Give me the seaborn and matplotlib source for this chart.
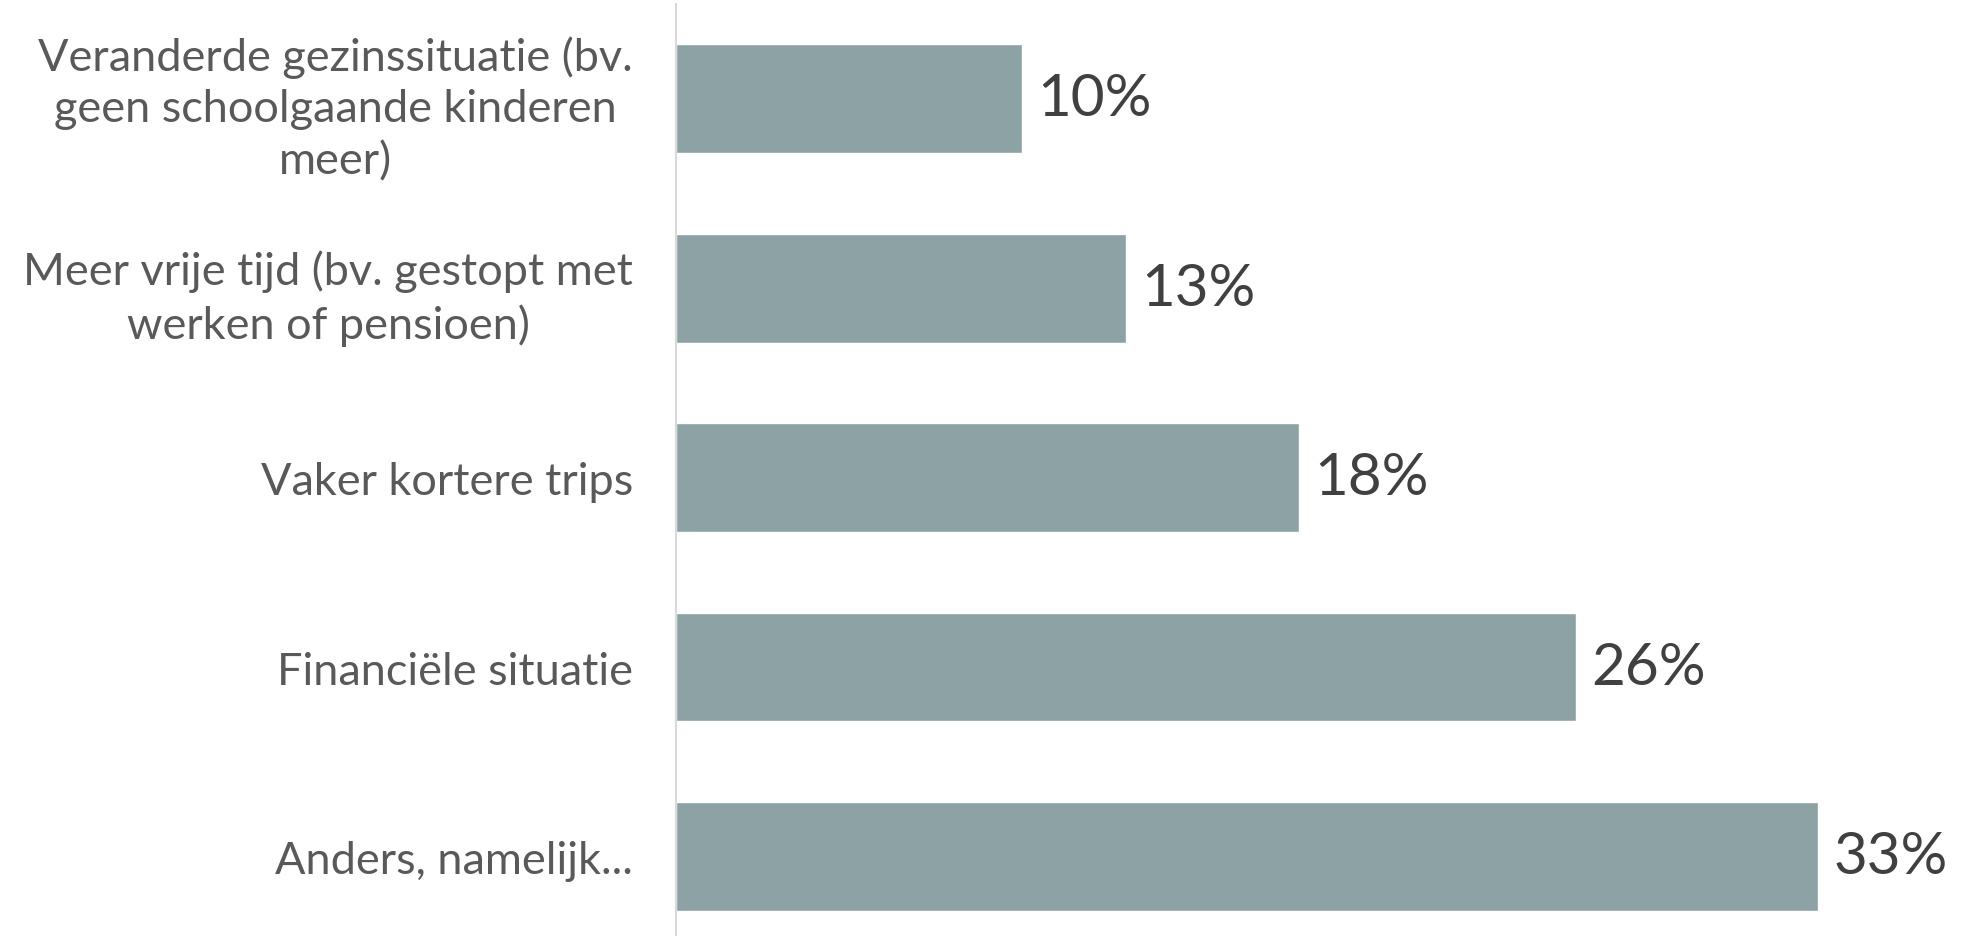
import seaborn as sns
import matplotlib.pyplot as plt
import pandas as pd

categories = [
    "Veranderde gezinssituatie (bv.\ngeen schoolgaande kinderen\nmeer)",
    "Meer vrije tijd (bv. gestopt met\nwerken of pensioen)",
    "Vaker kortere trips",
    "Financiële situatie",
    "Anders, namelijk...",
]
values = [10, 13, 18, 26, 33]
value_labels = ["10%", "13%", "18%", "26%", "33%"]

df = pd.DataFrame({"reden": categories, "pct": values})

sns.set_style("white")
plt.rcParams['font.family'] = ['Lato', 'DejaVu Sans']

fig = plt.figure(figsize=(19.62, 9.37), dpi=100)
ax = fig.add_axes([676 / 1962, 0, 1 - 676 / 1962, 932 / 937])

sns.barplot(data=df, x="pct", y="reden", orient="h", color="#8DA2A4",
            saturation=1, width=0.575, ax=ax)

ax.set_xlim(0, 37.17)
ax.set_ylim(4.42, -0.5)

for i, (v, lab) in enumerate(zip(values, value_labels)):
    ax.text(v + 0.45, i, lab, va="center", ha="left", fontsize=42, color="#404040")

ax.set_xlabel("")
ax.set_ylabel("")
ax.set_xticks([])
ax.tick_params(axis="y", length=0, pad=31)
for lab in ax.get_yticklabels():
    lab.set_fontsize(32.5)
    lab.set_color("#595959")
    lab.set_multialignment("center")
    lab.set_linespacing(1.32)

for s in ["top", "right", "bottom"]:
    ax.spines[s].set_visible(False)
ax.spines["left"].set_color("#D9D9D9")
ax.spines["left"].set_linewidth(1.5)

fig.savefig("out.png", dpi=100)
